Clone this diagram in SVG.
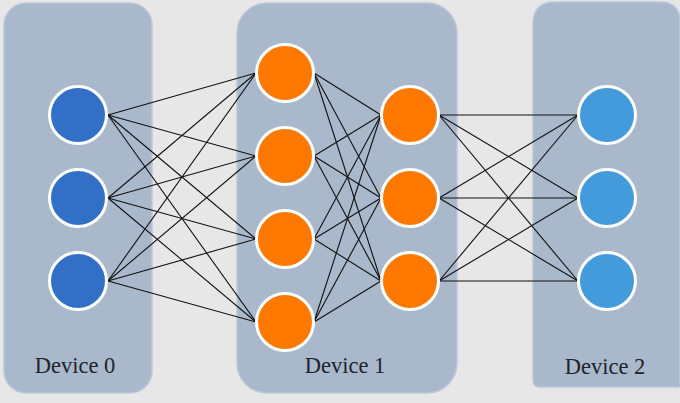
<svg xmlns="http://www.w3.org/2000/svg" width="680" height="403" viewBox="0 0 680 403">
<style>
.panel{fill:#a9b8cb;stroke:#bcc8da;stroke-width:1.5}
.n{stroke:#ffffff;stroke-width:3}
.b0{fill:#3270c8}
.o{fill:#ff7800}
.b2{fill:#449bdb}
.lbl{font-family:"Liberation Serif","Times New Roman",serif;font-size:22.5px;fill:#20252c;text-anchor:middle}
#connectors line{stroke:#111111;stroke-width:1.1}
</style>
<rect width="680" height="403" fill="#e7e7e7"/>
<g id="panels">
<rect class="panel" x="4" y="3" width="148" height="390" rx="22"/>
<rect class="panel" x="237" y="3" width="220" height="390" rx="30"/>
<path class="panel" d="M533,380 V24 Q533,2 555,2 H660 Q680,2 680,22 V387 H540 Q533,387 533,380 Z"/>
</g>
<g id="connectors">
<line x1="108" y1="115" x2="256" y2="73"/><line x1="108" y1="115" x2="256" y2="156"/><line x1="108" y1="115" x2="256" y2="239"/><line x1="108" y1="115" x2="256" y2="322"/>
<line x1="108" y1="198" x2="256" y2="73"/><line x1="108" y1="198" x2="256" y2="156"/><line x1="108" y1="198" x2="256" y2="239"/><line x1="108" y1="198" x2="256" y2="322"/>
<line x1="108" y1="281" x2="256" y2="73"/><line x1="108" y1="281" x2="256" y2="156"/><line x1="108" y1="281" x2="256" y2="239"/><line x1="108" y1="281" x2="256" y2="322"/>
<line x1="314" y1="73" x2="381" y2="115"/><line x1="314" y1="73" x2="381" y2="198"/><line x1="314" y1="73" x2="381" y2="281"/>
<line x1="314" y1="156" x2="381" y2="115"/><line x1="314" y1="156" x2="381" y2="198"/><line x1="314" y1="156" x2="381" y2="281"/>
<line x1="314" y1="239" x2="381" y2="115"/><line x1="314" y1="239" x2="381" y2="198"/><line x1="314" y1="239" x2="381" y2="281"/>
<line x1="314" y1="322" x2="381" y2="115"/><line x1="314" y1="322" x2="381" y2="198"/><line x1="314" y1="322" x2="381" y2="281"/>
<line x1="439" y1="115" x2="578" y2="115"/><line x1="439" y1="115" x2="578" y2="198"/><line x1="439" y1="115" x2="578" y2="281"/>
<line x1="439" y1="198" x2="578" y2="115"/><line x1="439" y1="198" x2="578" y2="198"/><line x1="439" y1="198" x2="578" y2="281"/>
<line x1="439" y1="281" x2="578" y2="115"/><line x1="439" y1="281" x2="578" y2="198"/><line x1="439" y1="281" x2="578" y2="281"/>
</g>
<g id="device0">
<circle id="d0n0" class="n b0" cx="78" cy="115" r="28.5"/>
<circle id="d0n1" class="n b0" cx="78" cy="198" r="28.5"/>
<circle id="d0n2" class="n b0" cx="78" cy="281" r="28.5"/>
<text class="lbl" x="75" y="373">Device 0</text>
</g>
<g id="device1">
<circle id="d1a0" class="n o" cx="285" cy="73" r="28.5"/>
<circle id="d1a1" class="n o" cx="285" cy="156" r="28.5"/>
<circle id="d1a2" class="n o" cx="285" cy="239" r="28.5"/>
<circle id="d1a3" class="n o" cx="285" cy="322" r="28.5"/>
<circle id="d1b0" class="n o" cx="410" cy="115" r="28.5"/>
<circle id="d1b1" class="n o" cx="410" cy="198" r="28.5"/>
<circle id="d1b2" class="n o" cx="410" cy="281" r="28.5"/>
<text class="lbl" x="345" y="373">Device 1</text>
</g>
<g id="device2">
<circle id="d2n0" class="n b2" cx="607" cy="115" r="28.5"/>
<circle id="d2n1" class="n b2" cx="607" cy="198" r="28.5"/>
<circle id="d2n2" class="n b2" cx="607" cy="281" r="28.5"/>
<text class="lbl" x="605" y="374">Device 2</text>
</g>
</svg>
